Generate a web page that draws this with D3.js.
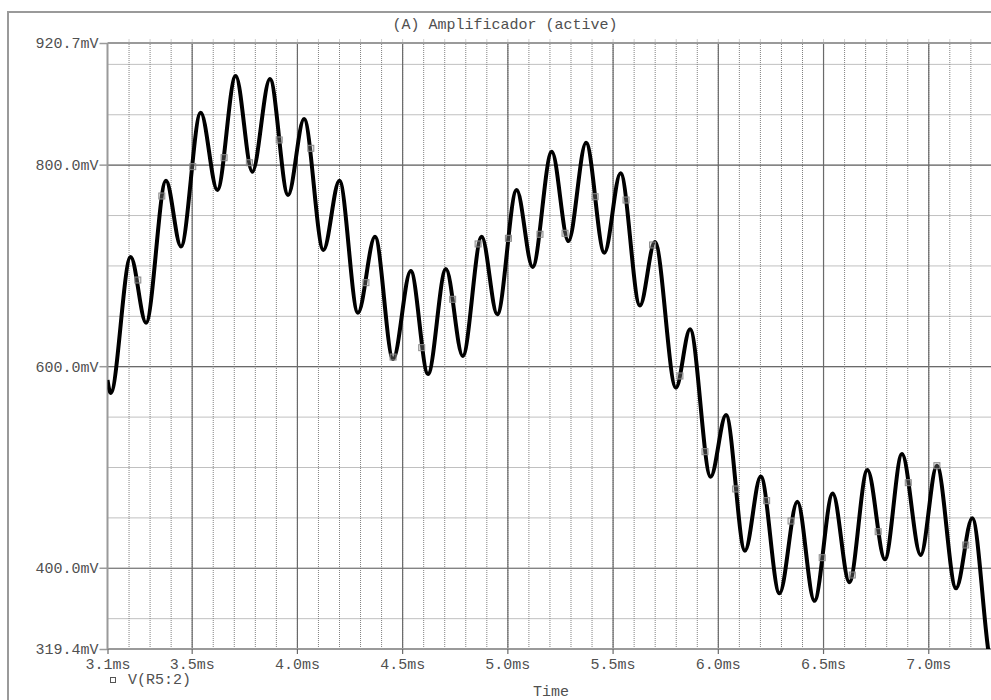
<!DOCTYPE html>
<html>
<head>
<meta charset="utf-8">
<script src="https://cdn.jsdelivr.net/npm/d3@7"></script>
<style>
  body { margin: 0; background: #fff; }
  text { font-family: "Courier New", "Liberation Mono", monospace; fill: #505050; }
</style>
</head>
<body>
<div id="canvas"></div>
<script>
// Trace: local peaks / troughs (time in ms, voltage in mV)
var time_ms = [3.100, 3.115, 3.210, 3.283, 3.378, 3.449, 3.543, 3.622, 3.709, 3.788,
               3.872, 3.958, 4.034, 4.126, 4.202, 4.290, 4.371, 4.457, 4.541, 4.623,
               4.708, 4.788, 4.878, 4.952, 5.044, 5.120, 5.211, 5.290, 5.374, 5.461,
               5.538, 5.630, 5.701, 5.801, 5.868, 5.966, 6.039, 6.129, 6.204, 6.293,
               6.378, 6.459, 6.546, 6.625, 6.711, 6.794, 6.875, 6.964, 7.041, 7.132,
               7.209, 7.285, 7.305]
var volt_mV = [586.3, 573.4, 708.4, 643.2, 784.1, 718.8, 851.5, 774.8, 888.0, 793.0,
               885.0, 769.9, 845.3, 715.3, 784.1, 653.1, 728.5, 607.2, 694.5, 592.3,
               696.5, 610.1, 728.5, 651.5, 774.8, 698.4, 812.8, 724.2, 821.8, 712.6,
               791.4, 660.2, 723.2, 578.7, 636.6, 490.4, 551.6, 416.9, 490.6, 374.7,
               465.6, 367.2, 473.7, 385.7, 497.0, 408.4, 512.9, 412.7, 501.3, 379.6,
               449.1, 318.4, 290.0]

// Trace markers (small squares)
var marker_t = [3.244, 3.358, 3.505, 3.654, 3.774, 3.916, 4.066, 4.328, 4.457, 4.593,
                4.740, 4.861, 5.005, 5.155, 5.274, 5.417, 5.564, 5.690, 5.820, 5.939,
                6.085, 6.232, 6.348, 6.496, 6.639, 6.762, 6.905, 7.041, 7.178]
var marker_v = [685.5, 768.9, 798.0, 806.9, 801.9, 824.5, 816.2, 682.9, 609.1, 618.4,
                666.4, 721.3, 726.9, 730.9, 731.9, 768.2, 764.9, 720.3, 590.3, 515.2,
                478.2, 466.6, 446.4, 410.0, 392.8, 435.8, 484.4, 501.3, 422.6]

// Axis ticks
var x_tick_values = [3.1, 3.5, 4.0, 4.5, 5.0, 5.5, 6.0, 6.5, 7.0]
var x_tick_labels = ["3.1ms", "3.5ms", "4.0ms", "4.5ms", "5.0ms", "5.5ms", "6.0ms", "6.5ms", "7.0ms"]
var x_major_grid = [3.5, 4.0, 4.5, 5.0, 5.5, 6.0, 6.5, 7.0]
var y_tick_values = [920.7, 800, 600, 400, 319.4]
var y_tick_labels = ["920.7mV", "800.0mV", "600.0mV", "400.0mV", "319.4mV"]
var y_major_grid = [800, 600, 400]
var x_domain = [3.1, 7.3]
var y_domain = [319.4, 920.7]

// Display variables
var total_width = 991, total_height = 700
var plot = {left: 107.5, top: 43, right: 991.4, bottom: 649}
var grid_colour = "#808080"
var frame_colour = "#9a9a9a"

var svg = d3.select("#canvas").append("svg").attr("width", total_width).attr("height", total_height)

// Outer window frame
svg.append("rect")
    .attr("x", 8).attr("y", 12)
    .attr("width", 1000).attr("height", 720)
    .attr("fill", "none").attr("stroke", frame_colour).attr("stroke-width", 2)

// Scales
var x = d3.scaleLinear().domain(x_domain).range([plot.left, plot.right])
var y = d3.scaleLinear().domain(y_domain).range([plot.bottom, plot.top])
var plot_h = plot.bottom - plot.top, plot_w = plot.right - plot.left

// ==================================================================================
// GRID

// Minor (dotted) grid, every 0.1ms and every 50mV
svg.append("g")
    .attr("class", "x_minor")
    .attr("transform", "translate(0," + plot.bottom + ")")
    .call(d3.axisBottom(x).tickValues(d3.range(3.2, 7.31, 0.1)).tickSize(-plot_h).tickFormat(""))
svg.append("g")
    .attr("class", "y_minor")
    .attr("transform", "translate(" + plot.left + ",0)")
    .call(d3.axisLeft(y).tickValues(d3.range(350, 901, 50)).tickSize(-plot_w).tickFormat(""))
svg.selectAll(".x_minor .tick line, .y_minor .tick line")
    .attr("stroke", grid_colour).attr("stroke-dasharray", "1,1").attr("stroke-width", 1)

// Major (solid) grid
svg.append("g")
    .attr("class", "x_major")
    .attr("transform", "translate(0," + plot.bottom + ")")
    .call(d3.axisBottom(x).tickValues(x_major_grid).tickSize(-plot_h).tickFormat(""))
svg.append("g")
    .attr("class", "y_major")
    .attr("transform", "translate(" + plot.left + ",0)")
    .call(d3.axisLeft(y).tickValues(y_major_grid).tickSize(-plot_w).tickFormat(""))
svg.selectAll(".x_major .tick line, .y_major .tick line")
    .attr("stroke", "#6a6a6a").attr("stroke-width", 1.2)
svg.selectAll(".x_minor .domain, .y_minor .domain, .x_major .domain, .y_major .domain").remove()

// Small ticks above the top edge
svg.append("g")
    .attr("class", "top_ticks")
    .attr("transform", "translate(0," + plot.top + ")")
    .call(d3.axisTop(x).tickValues(d3.range(3.2, 7.31, 0.1)).tickSize(4).tickFormat(""))
svg.selectAll(".top_ticks .tick line").attr("stroke", "#d0d0d0")
svg.select(".top_ticks .domain").remove()

// Plot box edges
svg.append("line").attr("x1", plot.left).attr("x2", total_width).attr("y1", plot.top).attr("y2", plot.top)
    .attr("stroke", frame_colour).attr("stroke-width", 2)
svg.append("line").attr("x1", plot.left).attr("x2", total_width).attr("y1", plot.bottom).attr("y2", plot.bottom)
    .attr("stroke", frame_colour).attr("stroke-width", 2)
svg.append("line").attr("x1", plot.left).attr("x2", plot.left).attr("y1", plot.top).attr("y2", plot.bottom)
    .attr("stroke", frame_colour).attr("stroke-width", 2)

// ==================================================================================
// AXES LABELS

var y_axis = svg.append("g")
    .attr("class", "y_axis")
    .attr("transform", "translate(" + plot.left + ",0)")
    .call(d3.axisLeft(y).tickValues(y_tick_values).tickSize(8).tickPadding(1)
        .tickFormat((d, i) => y_tick_labels[i]))
y_axis.select(".domain").remove()
y_axis.selectAll(".tick line").attr("stroke", frame_colour).attr("stroke-width", 1.5)
y_axis.selectAll(".tick text").style("font-size", "15px")

var x_axis = svg.append("g")
    .attr("class", "x_axis")
    .attr("transform", "translate(0," + plot.bottom + ")")
    .call(d3.axisBottom(x).tickValues(x_tick_values).tickSize(5).tickPadding(4)
        .tickFormat((d, i) => x_tick_labels[i]))
x_axis.select(".domain").remove()
x_axis.selectAll(".tick line").attr("stroke", "#6a6a6a").attr("stroke-width", 1.2)
x_axis.selectAll(".tick text").style("font-size", "15px")

svg.append("text")
    .attr("x", 505).attr("y", 29)
    .attr("text-anchor", "middle")
    .style("font-size", "15px")
    .text("(A) Amplificador (active)")

svg.append("text")
    .attr("x", 551).attr("y", 696)
    .attr("text-anchor", "middle")
    .style("font-size", "15px")
    .text("Time")

// Legend
svg.append("rect")
    .attr("x", 110.5).attr("y", 677.5).attr("width", 5).attr("height", 5)
    .attr("fill", "none").attr("stroke", "#555").attr("stroke-width", 1)
svg.append("text")
    .attr("x", 128).attr("y", 684)
    .style("font-size", "15px")
    .text("V(R5:2)")

// ==================================================================================
// TRACE

svg.append("defs").append("clipPath").attr("id", "clip")
    .append("rect")
    .attr("x", plot.left).attr("y", plot.top)
    .attr("width", plot_w).attr("height", plot_h)

var trace = svg.append("g").attr("clip-path", "url(#clip)")
var line = d3.line()
    .x((d, i) => x(time_ms[i]))
    .y((d, i) => y(volt_mV[i]))
    .curve(d3.curveMonotoneX)

trace.append("path")
    .attr("d", line(time_ms))
    .attr("fill", "none")
    .attr("stroke", "#000")
    .attr("stroke-width", 4)
    .attr("stroke-linejoin", "round")

trace.selectAll(".marker")
    .data(marker_t)
    .enter().append("rect")
    .attr("class", "marker")
    .attr("x", (d, i) => x(d) - 3)
    .attr("y", (d, i) => y(marker_v[i]) - 3)
    .attr("width", 6).attr("height", 6)
    .attr("fill", "rgba(170,170,170,0.3)")
    .attr("stroke", "#8a8a8a")
    .attr("stroke-width", 1)
</script>
</body>
</html>
